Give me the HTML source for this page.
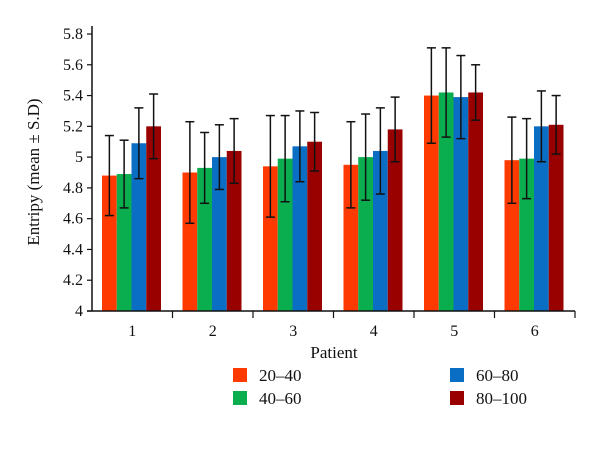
<!DOCTYPE html>
<html><head><meta charset="utf-8"><style>
body{margin:0;background:#fff;}
svg text{font-family:"Liberation Serif","DejaVu Serif",serif;fill:#111;}
</style></head><body>
<svg id="chart" width="600" height="460" xmlns="http://www.w3.org/2000/svg">
<g id="bars"></g>
<g id="axes"></g>
<text x="334" y="358" font-size="17" text-anchor="middle" style="font-family:'Liberation Serif',serif">Patient</text>
<text transform="translate(39,172) rotate(-90)" font-size="17" text-anchor="middle" style="font-family:'Liberation Serif',serif">Entripy (mean ± S.D)</text>
<g id="legend"></g>
</svg>
<script>
const categories=["1","2","3","4","5","6"];
const seriesNames=["20–40","40–60","60–80","80–100"];
const colors=["#ff3a00","#0aae4e","#0a6ec4","#990000"];
const s2040=[4.88,4.90,4.94,4.95,5.40,4.98];
const s4060=[4.89,4.93,4.99,5.00,5.42,4.99];
const s6080=[5.09,5.00,5.07,5.04,5.39,5.20];
const s80100=[5.20,5.04,5.10,5.18,5.42,5.21];
const e2040=[0.26,0.33,0.33,0.28,0.31,0.28];
const e4060=[0.22,0.23,0.28,0.28,0.29,0.26];
const e6080=[0.23,0.21,0.23,0.28,0.27,0.23];
const e80100=[0.21,0.21,0.19,0.21,0.18,0.19];
const yTicks=[4,4.2,4.4,4.6,4.8,5,5.2,5.4,5.6,5.8];
const yTickLabels=["4","4.2","4.4","4.6","4.8","5","5.2","5.4","5.6","5.8"];

const NS="http://www.w3.org/2000/svg";
const x0=92,x1=575,yMin=4,yMax=5.8,py0=311,py1=34;
const y=v=>py0-(v-yMin)/(yMax-yMin)*(py0-py1);
const gw=(x1-x0)/categories.length;
const bw=14.75;
const gx=i=>x0+i*gw+10;
function mk(t,a,p){const e=document.createElementNS(NS,t);for(const k in a)e.setAttribute(k,a[k]);p.appendChild(e);return e;}
const series=[s2040,s4060,s6080,s80100], errs=[e2040,e4060,e6080,e80100];
const bars=document.getElementById('bars');
series.forEach((s,si)=>{s.forEach((v,i)=>{
  const bx=gx(i)+si*bw;
  const r=mk('rect',{x:bx,y:y(v),width:bw,height:y(yMin)-y(v),fill:colors[si]},bars);
  
  
  const cx=bx+bw/2, hi=y(v+errs[si][i]), lo=y(v-errs[si][i]);
  const g=mk('g',{stroke:'#111','stroke-width':1.5},bars);
  
  
  mk('line',{x1:cx,x2:cx,y1:hi,y2:lo},g);
  mk('line',{x1:cx-4.5,x2:cx+4.5,y1:hi,y2:hi},g);
  mk('line',{x1:cx-4.5,x2:cx+4.5,y1:lo,y2:lo},g);
});});
const ax=document.getElementById('axes');
mk('line',{x1:x0,x2:x0,y1:py1-8,y2:py0,stroke:'#111','stroke-width':1.5},ax);
mk('line',{x1:x0-5,x2:x1,y1:py0,y2:py0,stroke:'#111','stroke-width':1.5},ax);
yTicks.forEach((t,i)=>{
  mk('line',{x1:x0-5,x2:x0,y1:y(t),y2:y(t),stroke:'#111','stroke-width':1.2},ax);
  const tx=mk('text',{x:x0-9,y:y(t)+5,'font-size':16,'text-anchor':'end'},ax);
  tx.textContent=yTickLabels[i];
  
  
});
categories.forEach((c,i)=>{
  mk('line',{x1:x0+(i+1)*gw,x2:x0+(i+1)*gw,y1:py0,y2:py0+7,stroke:'#111','stroke-width':1.2},ax);
  const tx=mk('text',{x:x0+(i+0.5)*gw,y:py0+25,'font-size':16,'text-anchor':'middle'},ax);
  tx.textContent=c;
  
  
});
const lg=document.getElementById('legend');
const pos=[[233,375],[233,398],[450,375],[450,398]];
seriesNames.forEach((n,i)=>{
  const g=mk('g',{},lg);
  
  
  mk('rect',{x:pos[i][0],y:pos[i][1]-7,width:14,height:14,fill:colors[i]},g);
  const t=mk('text',{x:pos[i][0]+26,y:pos[i][1]+6,'font-size':17},g);
  t.textContent=n;
});
</script>
</body></html>
